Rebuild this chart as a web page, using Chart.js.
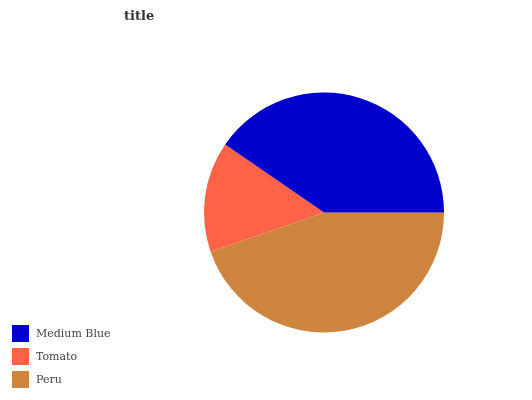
<!DOCTYPE html>
<html>
<head>
<meta charset="utf-8">
<script src="https://cdn.jsdelivr.net/npm/chart.js@4/dist/chart.umd.min.js"></script>
<style>
  body { margin: 0; background: #fff; }
  #wrap { position: relative; width: 532px; height: 400px; }
  #title { position: absolute; left: 124px; top: 8px; font: bold 13px "DejaVu Serif", serif; color: #333; }
  #legend { position: absolute; left: 12px; top: 325px; font: 11px "DejaVu Serif", serif; color: #444; }
  .item { display: flex; align-items: center; height: 17px; margin-bottom: 6px; }
  .box { width: 17px; height: 17px; margin-right: 7px; }
</style>
</head>
<body>
<div id="wrap">
  <canvas id="pie" width="532" height="400"></canvas>
  <div id="title">title</div>
  <div id="legend"></div>
</div>
<script>
// legend order (top to bottom)
const labels = ['Medium Blue', 'Tomato', 'Peru'];
const values = [40.4, 14.9, 44.7];
const colors = ['#0000CD', '#FF6347', '#CD853F'];

// slices run counter-clockwise from 3 o'clock in the reference,
// chart.js draws clockwise, so feed the data reversed
const dsLabels = labels.slice().reverse();
const dsValues = values.slice().reverse();
const dsColors = colors.slice().reverse();

function buildLegend() {
    const el = document.getElementById('legend');
    labels.forEach((l, i) => {
        const row = document.createElement('div');
        row.className = 'item';
        row.innerHTML = `<span class="box" style="background:${colors[i]}"></span>${l}`;
        el.appendChild(row);
    });
}

function initChart() {
    const ctx = document.getElementById('pie').getContext('2d');
    new Chart(ctx, {
        type: 'pie',
        data: {
            labels: dsLabels,
            datasets: [{ data: dsValues, backgroundColor: dsColors, borderWidth: 0 }]
        },
        options: {
            responsive: false,
            animation: false,
            rotation: 90,
            layout: { padding: { left: 204, right: 88, top: 92, bottom: 67 } },
            plugins: { legend: { display: false }, tooltip: { enabled: false } }
        }
    });
}

buildLegend();
initChart();
</script>
</body>
</html>
